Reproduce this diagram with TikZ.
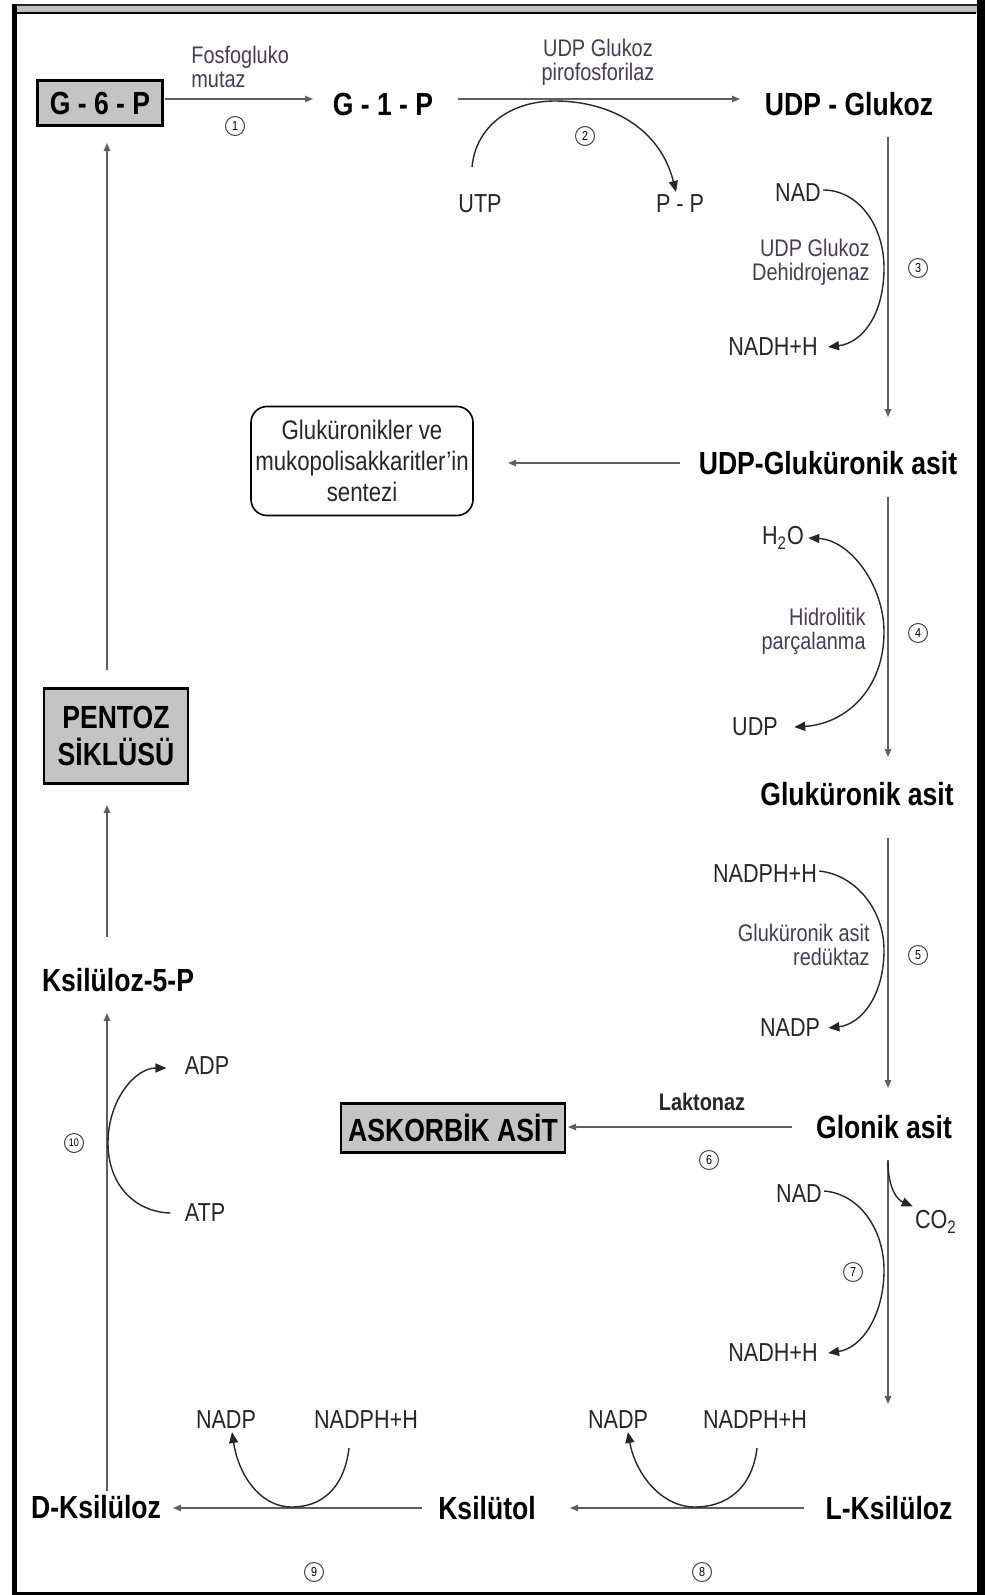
\documentclass[tikz,border=0pt]{standalone}
\usepackage{fontspec}
\setmainfont{Liberation Sans}[FakeStretch=0.83]
\usetikzlibrary{arrows.meta,calc}
\definecolor{enzc}{RGB}{70,60,85}
\definecolor{linec}{RGB}{95,95,95}
\definecolor{boxg}{RGB}{196,196,196}
\begin{document}
\begin{tikzpicture}[x=0.5pt,y=-0.5pt,
  big/.style={font=\fontsize{16}{19}\selectfont\bfseries, inner sep=1pt},
  met/.style={font=\fontsize{13}{15}\selectfont, text=black!85, inner sep=1pt},
  enz/.style={font=\fontsize{12}{12}\selectfont, text=enzc, inner sep=0pt},
  num/.style={circle, draw=black!75, line width=0.5pt, inner sep=0pt, minimum size=9.5pt, font=\fontsize{6.5}{7}\selectfont},
  ln/.style={draw=linec, line width=0.6pt, -{Triangle[length=4pt,width=3.2pt]}},
  arcl/.style={draw=black!85, line width=0.7pt, -{Triangle[length=5.5pt,width=4.5pt]}},
  gbox/.style={draw, line width=1.2pt, fill=boxg, inner sep=0pt, font=\fontsize{16}{18.5}\selectfont\bfseries, align=center},
]
\useasboundingbox (0,0) rectangle (985,1595);
% frame
\fill[black!25] (12,5) rectangle (980,13);
\draw[line width=1pt, black!85] (12,5) -- (985,5);
\draw[line width=1.2pt] (12,13) -- (976,13);
\draw[line width=2.5pt] (14,4) -- (14,1595);
\draw[line width=4pt] (981,0) -- (981,1595);
\draw[line width=1.5pt] (12,1593) -- (985,1593);

% helper coordinates
\coordinate (colR) at (888,0);
\coordinate (colL) at (107,0);
\coordinate (row1) at (0,99);
\coordinate (rowB) at (0,1508);

% main nodes
\node[gbox, minimum width=62.5pt, minimum height=22.5pt] (g6p) at (100,103) {G - 6 - P};
\node[big] (g1p) at (383,104) {G - 1 - P};
\node[big] (udpg) at (849,104) {UDP - Glukoz};
\node[big] (udpga) at (828,463) {UDP-Gluküronik asit};
\node[big] (glka) at (857,794) {Gluküronik asit};
\node[big] (glonik) at (884,1127) {Glonik asit};
\node[big] (lks) at (889,1508) {L-Ksilüloz};
\node[big] (ksl) at (487,1508) {Ksilütol};
\node[big] (dks) at (96,1507) {D-Ksilüloz};
\node[big] (ks5p) at (118,980) {Ksilüloz-5-P};
\node[gbox, minimum width=72pt, minimum height=47.5pt] (pentoz) at (116,736) {PENTOZ\\SİKLÜSÜ};
\node[gbox, minimum width=112pt, minimum height=24.5pt] (askorbik) at (453,1128) {ASKORBİK ASİT};
\node[draw, rounded corners=8pt, line width=0.8pt, inner sep=2pt, minimum width=111pt, minimum height=54.5pt, align=center, font=\fontsize{13.4}{15.5}\selectfont, text=black!85] (gluk) at (362,461) {Gluküronikler ve\\mukopolisakkaritler'in\\sentezi};

% labels
\node[enz, align=left, anchor=west] (enz1) at (191,67) {Fosfogluko\\mutaz};
\node[num] (n1) at (235,126) {1};
\node[enz, align=center] (enz2) at (598,62) {UDP Glukoz\\pirofosforilaz};
\node[num] (n2) at (585,136) {2};
\node[met] (utp) at (480,204) {UTP};
\node[met] (pp) at (680,204) {P - P};
\node[met] (nad3) at (798,193) {NAD};
\node[met] (nadh3) at (773,347) {NADH+H};
\node[enz, align=right, anchor=east] (enz3) at (870,262) {UDP Glukoz\\Dehidrojenaz};
\node[num] (n3) at (918,268) {3};
\node[met] (h2o) at (783,538) {H\textsubscript{2}O};
\node[met] (udp4) at (755,727) {UDP};
\node[enz, align=right, anchor=east] (enz4) at (866,631) {Hidrolitik\\parçalanma};
\node[num] (n4) at (918,633) {4};
\node[met] (nadph5) at (765,874) {NADPH+H};
\node[met] (nadp5) at (790,1028) {NADP};
\node[enz, align=right, anchor=east] (enz5) at (870,945) {Gluküronik asit\\redüktaz};
\node[num] (n5) at (918,955) {5};
\node[enz, font=\fontsize{12}{12}\selectfont\bfseries, text=black!85] (enz6) at (702,1102) {Laktonaz};
\node[num] (n6) at (709,1160) {6};
\node[met] (nad7) at (799,1194) {NAD};
\node[met] (nadh7) at (773,1353) {NADH+H};
\node[met] (co2) at (936,1222) {CO\textsubscript{2}};
\node[num] (n7) at (853,1272) {7};
\node[met] (nadp8) at (618,1420) {NADP};
\node[met] (nadph8) at (755,1420) {NADPH+H};
\node[num] (n8) at (702,1572) {8};
\node[met] (nadp9) at (226,1420) {NADP};
\node[met] (nadph9) at (366,1420) {NADPH+H};
\node[num] (n9) at (314,1572) {9};
\node[met] (adp) at (207,1066) {ADP};
\node[met] (atp) at (205,1213) {ATP};
\node[num] (n10) at (74,1143) {\fontsize{5.5}{6}\selectfont 10};

% straight connectors
\draw[ln, shorten <=32.5pt, shorten >=35pt] (g6p.center |- row1) -- (g1p.center |- row1);
\draw[ln, shorten <=37.5pt, shorten >=54.5pt] (g1p.center |- row1) -- (udpg.center |- row1);
\draw[ln, shorten <=16.5pt, shorten >=23pt] (udpg.center -| colR) -- (udpga.center -| colR);
\draw[ln, shorten <=17pt, shorten >=18.5pt] (udpga.center -| colR) -- (glka.center -| colR);
\draw[ln, shorten <=22pt, shorten >=19.5pt] (glka.center -| colR) -- (glonik.center -| colR);
\draw[ln, shorten <=16.5pt, shorten >=52pt] (glonik.center -| colR) -- (lks.center -| colR);
\draw[ln, shorten <=42.5pt, shorten >=41.5pt] (lks.center |- rowB) -- (ksl.center |- rowB);
\draw[ln, shorten <=32.5pt, shorten >=38.5pt] (ksl.center |- rowB) -- (dks.center |- rowB);
\draw[ln, shorten <=8pt, shorten >=16.5pt] (dks.center -| colL) -- (ks5p.center -| colL);
\draw[ln, shorten <=21.5pt, shorten >=34.5pt] (ks5p.center -| colL) -- (pentoz.center -| colL);
\draw[ln, shorten <=33pt, shorten >=20pt] (pentoz.center -| colL) -- (g6p.center -| colL);
\draw[ln, shorten <=74pt, shorten >=73pt] (udpga.center) -- (udpga.center -| gluk.center);
\draw[ln, shorten <=46pt, shorten >=57.5pt] (glonik.center) -- (glonik.center -| askorbik.center);

% curved side arrows
\draw[arcl] ($(utp.center)+(-8,-37)$) .. controls (476,125) and (512,101) .. (555,101) .. controls (610,101) and (660,128) .. ($(pp.center)+(-4,-12)$);
\draw[arcl] ($(nad3.east)+(0,-3)$) .. controls (858,190) and (884,225) .. (884,268) .. controls (884,315) and (862,343) .. ($(nadh3.east)+(8,0)$);
\draw[arcl, {Triangle[length=5.5pt,width=4.5pt]}-{Triangle[length=5.5pt,width=4.5pt]}] ($(h2o.east)+(2,0)$) .. controls (850,540) and (884,585) .. (884,632) .. controls (884,690) and (845,724) .. ($(udp4.east)+(14,0)$);
\draw[arcl] ($(nadph5.east)+(0,-3)$) .. controls (856,875) and (884,910) .. (884,950) .. controls (884,995) and (862,1024) .. ($(nadp5.east)+(6,0)$);
\draw[arcl] ($(nad7.east)+(0,-3)$) .. controls (860,1194) and (884,1230) .. (884,1270) .. controls (884,1315) and (862,1348) .. ($(nadh7.east)+(8,0)$);
\draw[arcl] ($(glonik.center -| colR)+(0,34)$) .. controls (888,1190) and (898,1200) .. ($(co2.north west)+(0,-2)$);
\draw[arcl] ($(nadph8.center)+(2,28)$) .. controls (752,1490) and (725,1507) .. (695,1507) .. controls (660,1507) and (635,1472) .. ($(nadp8.center)+(10,12)$);
\draw[arcl] ($(nadph9.center)+(-17,28)$) .. controls (344,1490) and (320,1507) .. (292,1507) .. controls (258,1507) and (238,1472) .. ($(nadp9.center)+(6,12)$);
\draw[arcl] ($(atp.west)+(-12,0)$) .. controls (135,1212) and (108,1185) .. (108,1143) .. controls (108,1100) and (135,1068) .. ($(adp.west)+(-16,2)$);
\end{tikzpicture}
\end{document}
